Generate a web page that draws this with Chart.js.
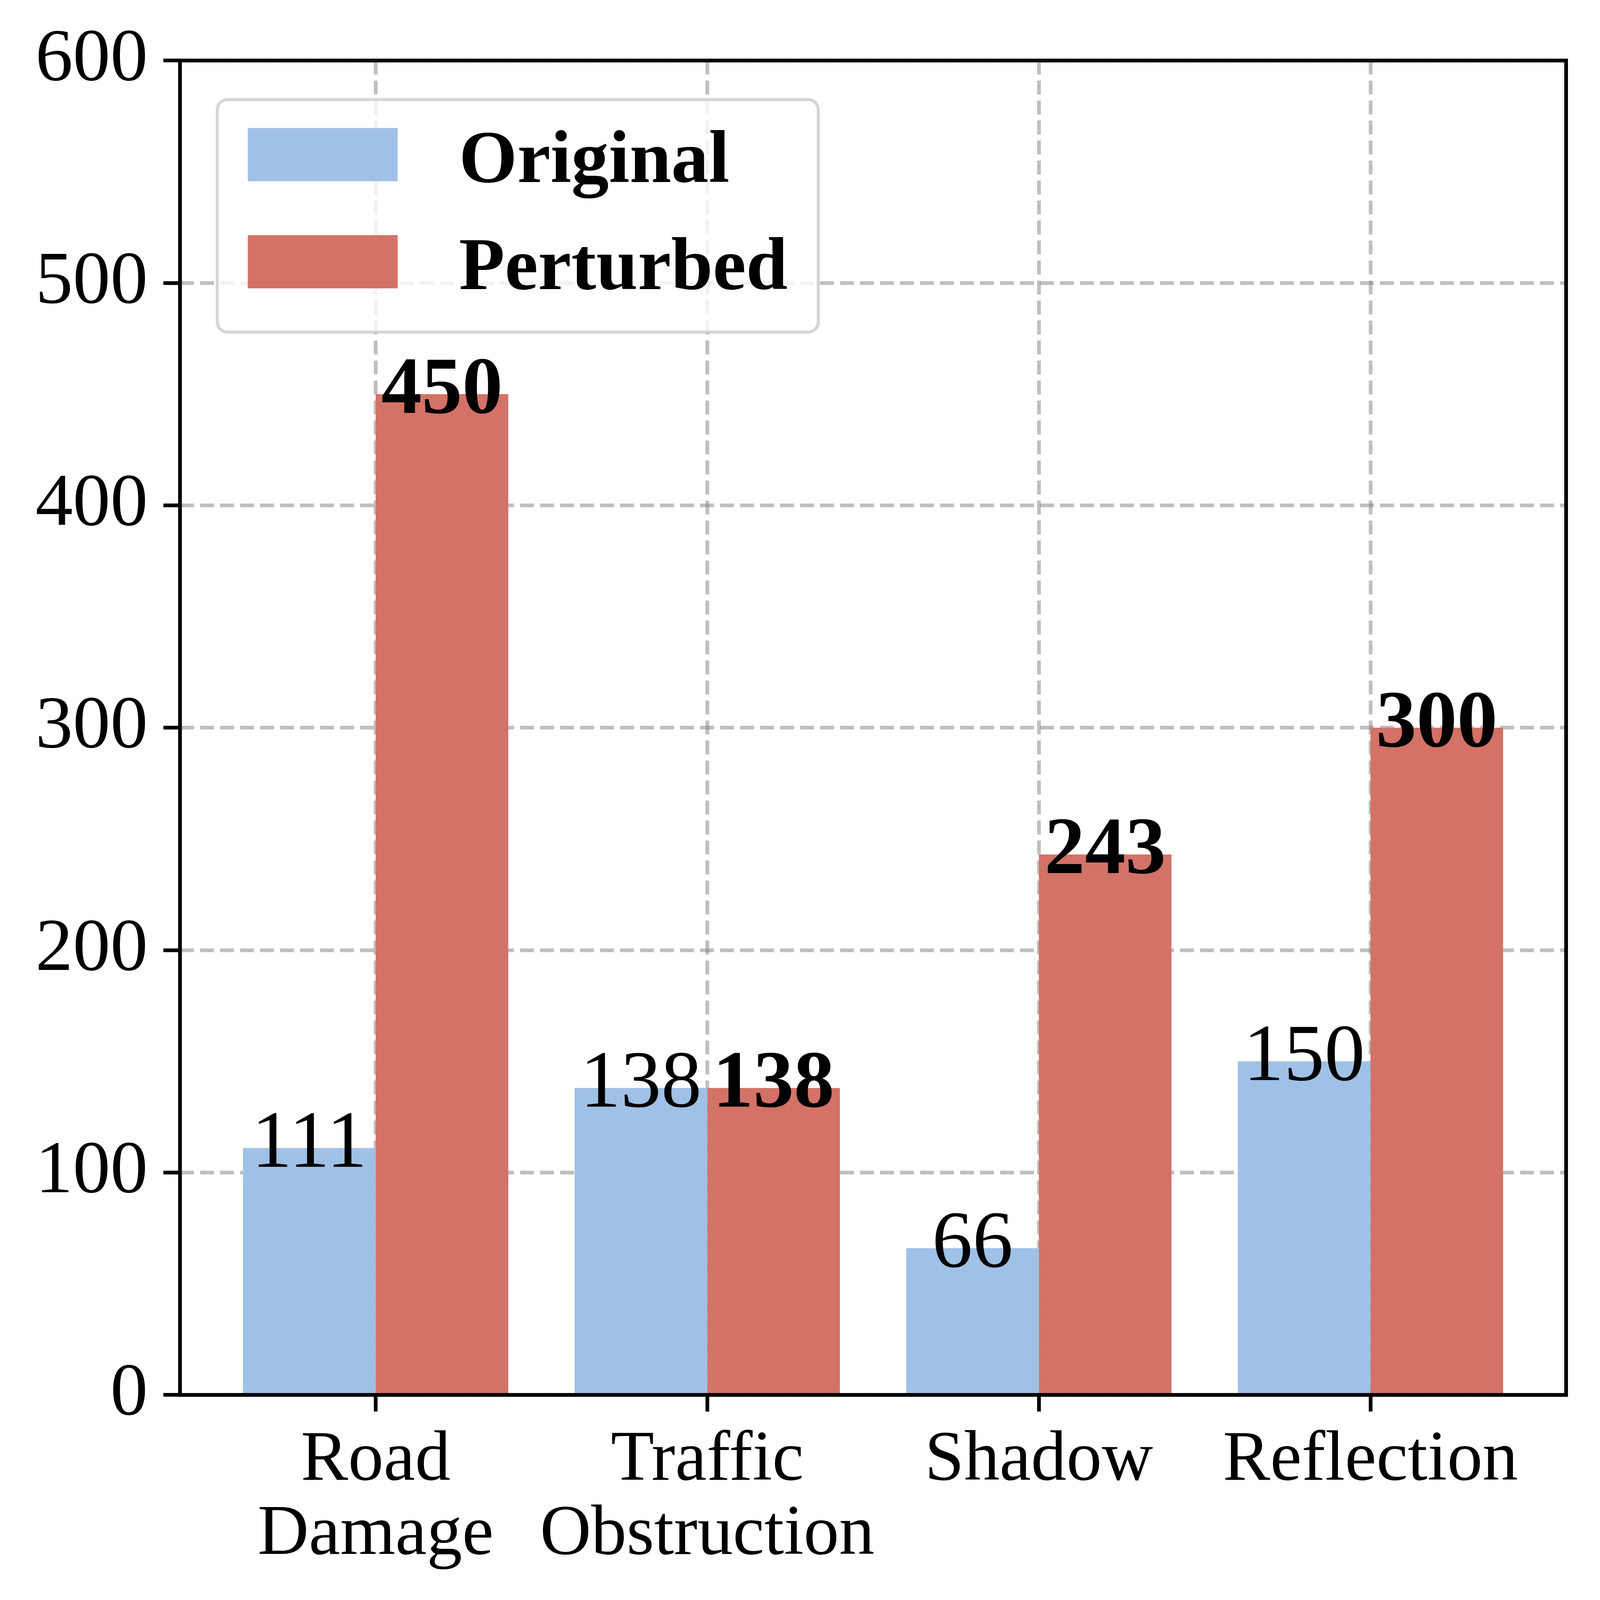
<!DOCTYPE html>
<html>
<head>
<meta charset="utf-8">
<script src="https://cdn.jsdelivr.net/npm/chart.js@4.4.1/dist/chart.umd.min.js"></script>
<style>
	html, body { margin: 0; padding: 0; background: #fff; overflow: hidden; }
	#wrap { position: relative; width: 100vw; height: 100vh; }
</style>
</head>
<body>
<div id="wrap"><canvas id="chart"></canvas></div>
<script>
const categories = [["Road", "Damage"], ["Traffic", "Obstruction"], ["Shadow"], ["Reflection"]];
const seriesNames = ["Original", "Perturbed"];
const original = [111, 138, 66, 150];
const perturbed = [450, 138, 243, 300];
const yTicks = [0, 100, 200, 300, 400, 500, 600];

const SERIF = "'Times New Roman', 'Liberation Serif', 'DejaVu Serif', serif";
const blue = "#a0c1e6";
const red = "#d37267";
const gridColor = "rgba(128,128,128,0.5)";

// everything below was measured on a 4720px picture; scale to the real viewport
const k = window.innerWidth / 4720;
const px = v => v * k;

const toPoints = vals => vals.map((v, i) => ({ x: i, y: v }));

// value labels, frame and legend drawn on top of everything
const overlay = {
	id: "overlay",
	afterDraw(chart) {
		const { ctx, chartArea: ca } = chart;
		ctx.save();

		// bar values
		ctx.textAlign = "center";
		ctx.textBaseline = "alphabetic";
		ctx.fillStyle = "#000";
		chart.data.datasets.forEach((ds, di) => {
			ctx.font = (di === 1 ? "bold " : "") + px(239) + "px " + SERIF;
			chart.getDatasetMeta(di).data.forEach((bar, i) => {
				ctx.fillText(String(ds.data[i].y), bar.x, bar.y + px(55));
			});
		});

		// axes box
		ctx.strokeStyle = "#000";
		ctx.lineWidth = px(11);
		ctx.strokeRect(ca.left, ca.top, ca.right - ca.left, ca.bottom - ca.top);

		// legend
		const lx = ca.left + px(110), ly = ca.top + px(115), lw = px(1773), lh = px(686);
		ctx.beginPath();
		ctx.roundRect(lx, ly, lw, lh, px(30));
		ctx.fillStyle = "rgba(255,255,255,0.8)";
		ctx.fill();
		ctx.strokeStyle = "rgba(204,204,204,0.8)";
		ctx.lineWidth = px(9);
		ctx.stroke();
		ctx.font = "bold " + px(221) + "px " + SERIF;
		ctx.textAlign = "left";
		chart.data.datasets.forEach((ds, di) => {
			const py = ly + px(84 + di * 316);
			ctx.fillStyle = ds.backgroundColor;
			ctx.fillRect(lx + px(90), py, px(442), px(157));
			ctx.fillStyle = "#000";
			ctx.fillText(ds.label, lx + px(713), py + px(159));
		});
		ctx.restore();
	},
};

const gridOpts = {
	color: gridColor,
	lineWidth: px(11),
	tickColor: "#000",
	tickWidth: px(11),
	tickLength: px(49),
	tickBorderDash: [],
	offset: false,
};

new Chart(document.getElementById("chart"), {
	type: "bar",
	plugins: [overlay],
	data: {
		datasets: [
			{ label: seriesNames[0], data: toPoints(original), backgroundColor: blue },
			{ label: seriesNames[1], data: toPoints(perturbed), backgroundColor: red },
		],
	},
	options: {
		responsive: true,
		maintainAspectRatio: false,
		animation: false,
		layout: { padding: { left: 0, top: px(177), right: px(100), bottom: 0 } },
		datasets: { bar: { categoryPercentage: 0.8, barPercentage: 1.0, borderWidth: 0 } },
		plugins: { legend: { display: false }, tooltip: { enabled: false } },
		scales: {
			x: {
				type: "linear",
				min: -0.59,
				max: 3.59,
				offset: false,
				z: 1,
				afterBuildTicks: s => { s.ticks = categories.map((c, i) => ({ value: i })); },
				afterFit: s => { s.height = px(4720 - 4115); },
				ticks: {
					callback: v => categories[v],
					font: { family: SERIF, size: px(209), lineHeight: 1.05 },
					color: "#000",
					padding: px(36),
					maxRotation: 0,
					autoSkip: false,
				},
				grid: gridOpts,
				border: { display: false, dash: [px(41), px(18)] },
			},
			y: {
				min: 0,
				max: 600,
				z: 1,
				afterBuildTicks: s => { s.ticks = yTicks.map(v => ({ value: v })); },
				afterFit: s => { s.width = px(531); },
				ticks: {
					font: { family: SERIF, size: px(221) },
					color: "#000",
					padding: px(46),
				},
				grid: gridOpts,
				border: { display: false, dash: [px(41), px(18)] },
			},
		},
	},
});
</script>
</body>
</html>
